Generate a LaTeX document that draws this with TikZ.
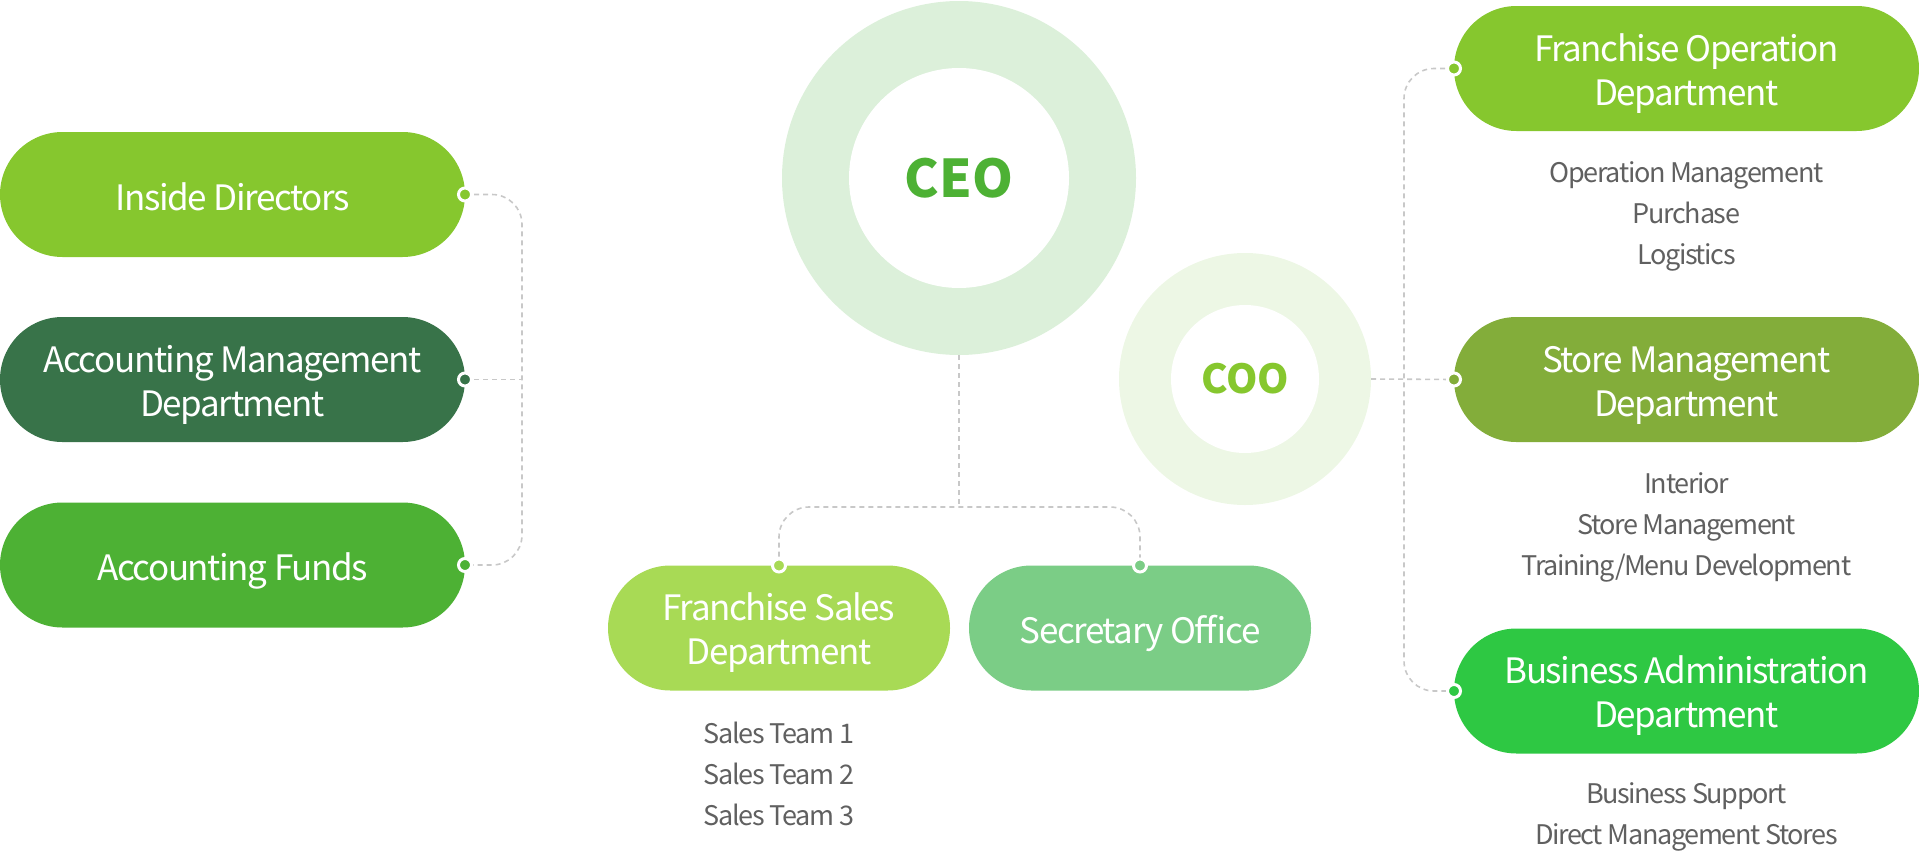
\documentclass[tikz,border=0pt]{standalone}
\usepackage{fontspec}
\setmainfont{Noto Sans CJK KR}
\newfontfamily\pillfont[LetterSpace=-4]{Noto Sans CJK KR}
\newfontfamily\subfont[LetterSpace=-5]{Noto Sans CJK KR}
\definecolor{lime}{HTML}{86C72E}
\definecolor{forest}{HTML}{387349}
\definecolor{leaf}{HTML}{4DB134}
\definecolor{apple}{HTML}{A8DA55}
\definecolor{mint}{HTML}{7BCD86}
\definecolor{olive}{HTML}{83AD3A}
\definecolor{vivid}{HTML}{2EC843}
\definecolor{ceoring}{HTML}{DCF0DA}
\definecolor{cooring}{HTML}{EDF7E5}
\definecolor{linegray}{HTML}{C8C8C8}
\definecolor{subgray}{HTML}{606060}
\tikzset{
	pill/.style={rectangle, rounded corners=62.5pt, minimum height=125pt, inner sep=0pt, outer sep=0pt,
		text=white, align=center, font=\pillfont\fontsize{35}{44}\selectfont,
		execute at begin node={\rule[-9pt]{0pt}{49pt}}},
	twolines/.style={execute at begin node={\rule[-9pt]{0pt}{91pt}}},
	widepill/.style={pill, minimum width=465pt},
	smallpill/.style={pill, minimum width=342pt},
	ring/.style={circle, inner sep=0pt, outer sep=0pt},
	hole/.style={circle, fill=white, inner sep=0pt},
	sub/.style={align=center, text=subgray, inner sep=0pt, font=\subfont\fontsize{27}{41}\selectfont},
	conn/.style={draw=linegray, line width=1.6pt, dash pattern=on 5pt off 4pt, rounded corners=30pt},
	dot/.style={circle, draw=white, line width=3pt, inner sep=0pt, minimum size=13pt}
}
\begin{document}
\begin{tikzpicture}[x=1pt, y=-1pt]
		\useasboundingbox (0,0) rectangle (1919,854);
		% CEO and COO
		\node[ring, fill=ceoring, minimum size=354pt] (ceo) at (959,178) {};
		\node[hole, minimum size=220pt, text=leaf, font=\fontsize{52}{54}\selectfont\bfseries] (ceoin) at (ceo) {CEO};
		\node[ring, fill=cooring, minimum size=252pt] (coo) at (1245,379) {};
		\node[hole, minimum size=148pt, text=lime, font=\fontsize{40}{42}\selectfont\bfseries] (cooin) at (coo) {COO};
		
		% Left side
		\node[widepill, fill=lime] (ins) at (232.5,194.5) {Inside Directors};
		\node[widepill, twolines, fill=forest] (acc) at (232.5,379.5) {Accounting Management\\Department};
		\node[widepill, fill=leaf] (fund) at (232.5,565) {Accounting Funds};
		
		% Below CEO
		\node[smallpill, twolines, fill=apple] (sales) at (779,628) {Franchise Sales\\Department};
		\node[smallpill, fill=mint] (sec) at (1140,628) {Secretary Office};
		\node[sub] (salessub) at (779,774) {Sales Team 1\\Sales Team 2\\Sales Team 3};
		
		% Right side
		\node[widepill, twolines, fill=lime] (fo) at (1686.5,68.5) {Franchise Operation\\Department};
		\node[widepill, twolines, fill=olive] (sm) at (1686.5,379.5) {Store Management\\Department};
		\node[widepill, twolines, fill=vivid] (ba) at (1686.5,691) {Business Administration\\Department};
		\node[sub] (fosub) at (1686.5,216.5) {Operation Management\\Purchase\\Logistics};
		\node[sub] (smsub) at (1686.5,527) {Interior\\Store Management\\Training/Menu Development};
		\node[sub] (basub) at (1686.5,817) {Business Support\\Direct Management Stores};
		
		% Connectors
		\coordinate (lbus) at (522,379.5);
		\coordinate (cbus) at (959,507);
		\coordinate (rbus) at (1404,379.5);
		\draw[conn] (ins.east) -| (lbus) |- (fund.east);
		\draw[conn] (acc.east) -- (lbus);
		\draw[conn] (ceo.south) -- (cbus);
		\draw[conn] (sales.north) |- (cbus) -| (sec.north);
		\draw[conn] (fo.west) -| (rbus) |- (ba.west);
		\draw[conn] (coo.east) -- (sm.west);
		
		% Dots
		\foreach \a/\c in {ins.east/lime, acc.east/forest, fund.east/leaf, sales.north/apple, sec.north/mint, fo.west/lime, sm.west/olive, ba.west/vivid}
			\node[dot, fill=\c] at (\a) {};
	\end{tikzpicture}
\end{document}
